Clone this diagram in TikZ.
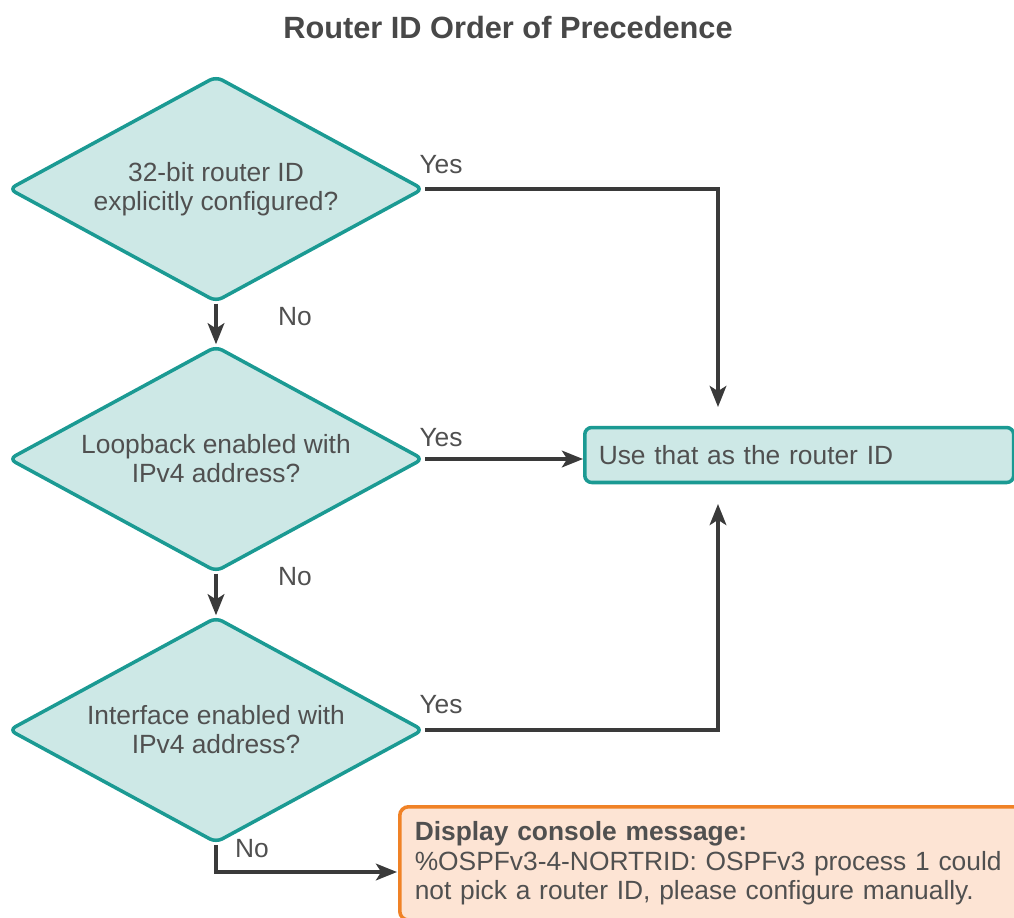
\documentclass[tikz,border=0pt]{standalone}
\usepackage{fontspec}
\setmainfont{Liberation Sans}
\usetikzlibrary{shapes.geometric,arrows.meta}
\definecolor{tealline}{HTML}{1B9A93}
\definecolor{tealfill}{HTML}{CDE8E6}
\definecolor{orangeline}{HTML}{F08226}
\definecolor{orangefill}{HTML}{FDE4D4}
\definecolor{txtgray}{HTML}{505050}
\definecolor{linegray}{HTML}{3A3A3A}

\begin{document}
\begin{tikzpicture}[x=0.02cm, y=-0.02cm,
    decision/.style={diamond, draw=tealline, fill=tealfill, line width=2pt, rounded corners=4pt,
        minimum width=8.3cm, minimum height=4.52cm, shape aspect=1.84, inner sep=0pt,
        align=center, text=txtgray, font=\fontsize{15}{16.5}\selectfont},
    result/.style={rectangle, draw=tealline, fill=tealfill, line width=2pt, rounded corners=4pt,
        minimum height=1.1cm, text width=8.02cm, inner xsep=0.28cm, align=left,
        text=txtgray, font=\fontsize{15}{16.5}\selectfont},
    message/.style={rectangle, draw=orangeline, fill=orangefill, line width=2pt, rounded corners=5pt,
        text width=12.3cm, inner xsep=0.3cm, inner ysep=0.3cm, align=left,
        text=txtgray, font=\fontsize{15}{16.7}\selectfont},
    flow/.style={line width=2pt, draw=linegray, -{Stealth[length=12pt, width=9.5pt, inset=3pt]}},
    lbl/.style={text=txtgray, font=\fontsize{15}{16.5}\selectfont, inner sep=0pt}]
    \clip (0,0) rectangle (1014,917);
    \node[font=\bfseries\fontsize{17.5}{20}\selectfont, text=txtgray!90!black] (title) at (508,28) {Router ID Order of Precedence};

    \node[decision] (d1) at (216,189) {32-bit router ID\\explicitly configured?};
    \node[decision] (d2) at (216,459) {Loopback enabled with\\IPv4 address?};
    \node[decision] (d3) at (216,730) {Interface enabled with\\IPv4 address?};
    \node[result, anchor=west] (use) at (583,455) {Use that as the router ID};
    \node[message, anchor=north west] (msg) at (398,805) {\textbf{Display console message:}\\\%OSPFv3-4-NORTRID: OSPFv3 process 1 could\\not pick a router ID, please configure manually.};

    \coordinate (inA) at (718,407);
    \coordinate (inB) at (718,504);
    \coordinate (msgIn) at (397,872);

    \draw[flow] (d1.south) -- (d2.north);
    \draw[flow] (d2.south) -- (d3.north);
    \draw[flow] (d1.east) -| (inA);
    \draw[flow] (d2.east) -- (d2.east -| use.west);
    \draw[flow] (d3.east) -| (inB);
    \draw[flow] (d3.south) |- (msgIn);

    \node[lbl] (yes1) at (441,165) {Yes};
    \node[lbl] (yes2) at (441,438) {Yes};
    \node[lbl] (yes3) at (441,705) {Yes};
    \node[lbl] (no1) at (295,317) {No};
    \node[lbl] (no2) at (295,577) {No};
    \node[lbl] (no3) at (252,849) {No};
\end{tikzpicture}
\end{document}
